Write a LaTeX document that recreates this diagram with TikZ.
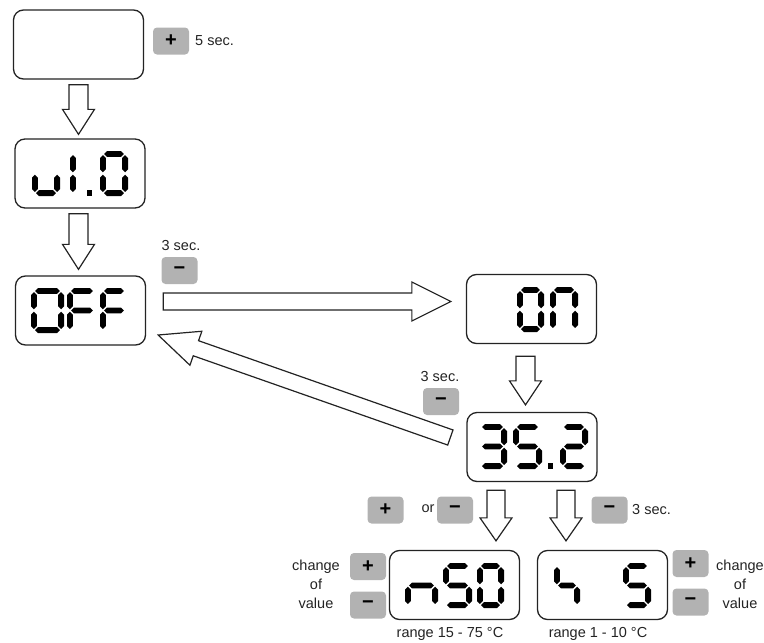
\documentclass[tikz,border=0pt]{standalone}
\usepackage{fontspec}
\setmainfont{Liberation Sans}
\usetikzlibrary{calc}

\definecolor{keygray}{RGB}{178,178,178}
\definecolor{frame}{RGB}{35,35,35}

% seven segment pieces: \hseg{x1}{x2}{y}, \vseg{y1}{y2}{x}
\newcommand\hseg[3]{\fill (#1+1.2,#3) -- (#1+4.1,#3-2.9) -- (#2-4.1,#3-2.9) -- (#2-1.2,#3) -- (#2-4.1,#3+2.9) -- (#1+4.1,#3+2.9) -- cycle;}
\newcommand\vseg[3]{\fill (#3,#1+1.2) -- (#3+2.9,#1+4.1) -- (#3+2.9,#2-4.1) -- (#3,#2-1.2) -- (#3-2.9,#2-4.1) -- (#3-2.9,#1+4.1) -- cycle;}
\newcommand\sgsa{\hseg{\sgL}{\sgR}{\sgT}}
\newcommand\sgsb{\vseg{\sgT}{\sgM}{\sgR}}
\newcommand\sgsc{\vseg{\sgM}{\sgB}{\sgR}}
\newcommand\sgsd{\hseg{\sgL}{\sgR}{\sgB}}
\newcommand\sgse{\vseg{\sgM}{\sgB}{\sgL}}
\newcommand\sgsf{\vseg{\sgT}{\sgM}{\sgL}}
\newcommand\sgsg{\hseg{\sgL}{\sgR}{\sgM}}
% one digit: left, top, width, list of lit segments
\newcommand\lcd[4]{%
  \pgfmathsetmacro\sgL{#1+2.9}\pgfmathsetmacro\sgR{#1+#3-2.9}%
  \pgfmathsetmacro\sgT{#2+2.9}\pgfmathsetmacro\sgM{#2+22.5}\pgfmathsetmacro\sgB{#2+42.1}%
  \foreach \s in {#4}{\csname sgs\s\endcsname}}

% hollow block arrow: tail, tip, half shaft, half head, head length
\newcommand\fatarrow[5]{%
  \coordinate (fa) at ($(#2)!#5!(#1)$);
  \draw[fat] ($(#1)!#3!90:(#2)$) -- ($(fa)!#3!90:(#2)$) -- ($(fa)!#4!90:(#2)$) -- (#2)
    -- ($(fa)!#4!-90:(#2)$) -- ($(fa)!#3!-90:(#2)$) -- ($(#1)!#3!-90:(#2)$) -- cycle;}

\begin{document}
\begin{tikzpicture}[x=1pt, y=-1pt,
    disp/.style={draw=frame, line width=1.3pt, rounded corners=10pt, minimum width=130pt, minimum height=69pt, inner sep=0pt},
    btn/.style={fill=keygray, rounded corners=4pt, minimum width=36pt, minimum height=27pt, inner sep=0pt, font=\bfseries\fontsize{20}{20}\selectfont},
    fat/.style={draw=frame, fill=white, line width=1.2pt, line join=miter},
    lbl/.style={text=frame, inner sep=0pt, font=\fontsize{14.5}{19}\selectfont}]
    \useasboundingbox (0,0) rectangle (764,643);

    % displays
    \node[disp] (blank)   at (78.5,44.5) {};
    \node[disp] (version) at (80,173.5) {};
    \node[disp] (off)     at (80.5,310.5) {};
    \node[disp] (on)      at (531.5,309) {};
    \node[disp] (temp)    at (532,447) {};
    \node[disp] (setp)    at (454.5,585) {};
    \node[disp] (hyst)    at (602.5,585) {};

    % digits
    \lcd{32}{151}{28}{c,d,e}
    \lcd{70}{151}{28}{e,f}
    \fill (86.5,190) rectangle (92,196);
    \lcd{100}{151}{28}{a,b,c,d,e,f}

    \lcd{31}{288}{33}{a,b,c,d,e,f}
    \lcd{67}{288}{30}{a,e,f,g}
    \lcd{100}{288}{28}{a,e,f,g}

    \lcd{517}{287}{27}{a,b,c,d,e,f}
    \lcd{550}{287}{28}{a,b,c,e,f}

    \lcd{478}{424}{29}{a,b,c,d,g}
    \lcd{513}{424}{29}{a,c,d,f,g}
    \fill (547.5,463) rectangle (553,469);
    \lcd{560}{424}{28}{a,b,d,e,g}

    \lcd{405}{563}{33}{c,e,g}
    \lcd{443}{563}{29}{a,c,d,f,g}
    \lcd{477}{563}{27}{a,b,c,d,e,f}

    \lcd{554}{563}{26}{c,f,g}
    \lcd{623}{563}{28}{a,c,d,f,g}

    % arrows between displays
    \coordinate (t1) at ($(blank.south)+(0,5)$);
    \coordinate (h1) at ($(blank.south |- version.north)+(0,-4)$);
    \fatarrow{t1}{h1}{9.5pt}{16pt}{25pt}
    \coordinate (t2) at ($(version.south)+(-1.5,5)$);
    \coordinate (h2) at ($(version.south |- off.north)+(-1.5,-6)$);
    \fatarrow{t2}{h2}{9.5pt}{16pt}{25pt}
    \coordinate (t3) at ($(off.east)+(17,-9)$);
    \coordinate (h3) at ($(on.west)+(-15,-7.5)$);
    \fatarrow{t3}{h3}{8.5pt}{19.5pt}{39pt}
    \coordinate (t4) at ($(on.south)+(-6,12)$);
    \coordinate (h4) at ($(on.south |- temp.north)+(-6,-7)$);
    \fatarrow{t4}{h4}{9.5pt}{16pt}{24pt}
    \coordinate (t5) at ($(temp.west)+(-16,-9.5)$);
    \coordinate (h5) at ($(off.east)+(12,24.5)$);
    \fatarrow{t5}{h5}{8pt}{18pt}{40pt}
    \coordinate (t6) at ($(temp.south)+(-36,8)$);
    \coordinate (h6) at ($(temp.south |- setp.north)+(-36,-9)$);
    \fatarrow{t6}{h6}{9pt}{16pt}{23pt}
    \coordinate (t7) at ($(temp.south)+(34,8)$);
    \coordinate (h7) at ($(temp.south |- hyst.north)+(34,-9)$);
    \fatarrow{t7}{h7}{9pt}{16pt}{23pt}

    % keys and notes
    \node[btn] (k1) at (171,41) {+};
    \node[lbl, anchor=west] (n1) at (195,41) {5 sec.};

    \node[lbl] (n2) at (181,246) {3 sec.};
    \node[btn] (k2) at (179.5,270.5) {−};

    \node[lbl] (n3) at (440,377) {3 sec.};
    \node[btn] (k3) at (441,401.5) {−};

    \node[btn] (k4) at (385.5,510) {+};
    \node[lbl] (n4) at (428,509) {or};
    \node[btn] (k5) at (455,510) {−};

    \node[btn] (k6) at (609.5,510) {−};
    \node[lbl, anchor=west] (n5) at (632,510) {3 sec.};

    \node[btn] (k7) at (368,566.5) {+};
    \node[btn] (k8) at (368,605) {−};
    \node[lbl, align=center] (n6) at (316,584) {change\\of\\value};

    \node[btn] (k9) at (690.5,563.5) {+};
    \node[btn] (k10) at (690.5,602) {−};
    \node[lbl, align=center] (n7) at (740,584) {change\\of\\value};

    \node[lbl] (n8) at (450,634) {range 15 - 75 °C};
    \node[lbl] (n9) at (598,634) {range 1 - 10 °C};
\end{tikzpicture}
\end{document}
